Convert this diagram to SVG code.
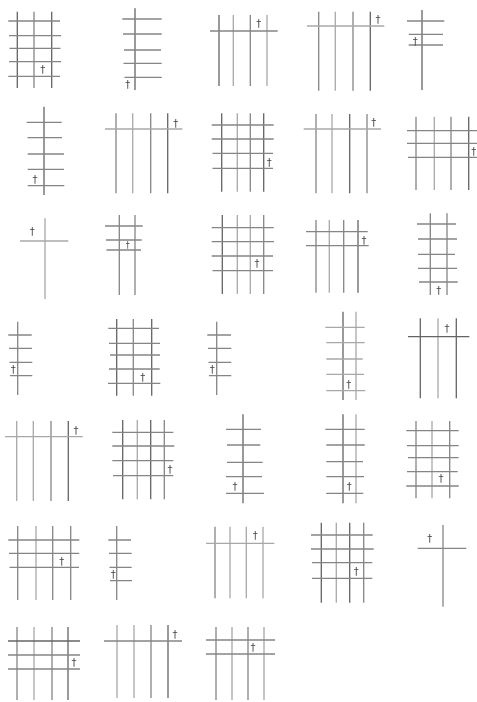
<svg xmlns="http://www.w3.org/2000/svg" width="477" height="702" viewBox="0 0 477 702">
<defs>
<filter id="gray" x="-50%" y="-50%" width="200%" height="200%"><feColorMatrix type="saturate" values="0"/></filter>
</defs>
<style>
path{fill:none;stroke-width:1.3}
.d{stroke:#646464}
.m{stroke:#858585}
.l{stroke:#a8a8a8}
text{font-family:"DejaVu Sans",sans-serif;font-size:10px;fill:#444;text-anchor:middle;filter:url(#gray)}
</style>
<rect width="477" height="702" fill="#fff"/>
<g id="fig1">
<path class="d" d="M17.3 11.7V88M51.7 11.7V88"/>
<path class="m" d="M34 11.7V88"/>
<path class="m" d="M8.3 21H60M9 35.7H61M9.5 48.3H60.5M9 61.7H61M8.3 76.3H60"/>
<text x="42.7" y="73">†</text>
</g>
<g id="fig2">
<path class="d" d="M135 8.3V90"/>
<path class="m" d="M122.3 19H161.7M123 34H161.7M124 50H161M123.5 63.3H161.7M124.5 77.3H161.7"/>
<text x="127.7" y="88">†</text>
</g>
<g id="fig3">
<path class="d" d="M219 15V86"/>
<path class="l" d="M233.3 15V86M267 15V86"/>
<path class="m" d="M250.3 15V86"/>
<path class="m" d="M210 31H277.7"/>
<text x="258.7" y="27.3">†</text>
</g>
<g id="fig4">
<path class="m" d="M318.7 11.7V90.7M353 11.7V90.7"/>
<path class="l" d="M335.3 11.7V90.7"/>
<path class="d" d="M370.3 11.7V90.7"/>
<path class="l" d="M307 26H384.3"/>
<text x="378" y="23.3">†</text>
</g>
<g id="fig5">
<path class="d" d="M422 10V90"/>
<path class="m" d="M407 21H444.3M408.7 34.3H443M408.7 45H443"/>
<text x="415.3" y="44.7">†</text>
</g>
<g id="fig6">
<path class="d" d="M44 106.7V195"/>
<path class="m" d="M26.7 122.3H61.7M27.5 137.7H62M27.7 154H64M27.7 169.3H64M27.7 185.7H64.3"/>
<text x="35" y="183.3">†</text>
</g>
<g id="fig7">
<path class="m" d="M116 113.3V193.3M150.7 113.3V193.3"/>
<path class="l" d="M132.7 113.3V193.3"/>
<path class="d" d="M167.7 113.3V193.3"/>
<path class="l" d="M105 129H182.3"/>
<text x="175.7" y="126.7">†</text>
</g>
<g id="fig8">
<path class="d" d="M221.7 113.3V191.7M263.7 113.3V191.7"/>
<path class="l" d="M237.3 113.3V191.7"/>
<path class="m" d="M250.3 113.3V191.7"/>
<path class="m" d="M211.7 125H273.7M211.7 139H273.7M212.5 153.3H273M212.5 168.3H273"/>
<text x="269.3" y="165.7">†</text>
</g>
<g id="fig9">
<path class="m" d="M316 114V193.3"/>
<path class="l" d="M332 114V193.3"/>
<path class="d" d="M349.7 114V193.3"/>
<path class="m" d="M367 114V193.3"/>
<path class="l" d="M303.7 129H381"/>
<text x="373.7" y="125.7">†</text>
</g>
<g id="fig10">
<path class="m" d="M416 116.7V190M451 116.7V190"/>
<path class="l" d="M434.3 116.7V190"/>
<path class="d" d="M468.7 116.7V190"/>
<path class="m" d="M407 130.7H477M407 143.3H477M408 157.3H477"/>
<text x="473.7" y="154.7">†</text>
</g>
<g id="fig11">
<path class="l" d="M45 218.3V299"/>
<path class="l" d="M20 241H68.3"/>
<text x="32.3" y="234.7">†</text>
</g>
<g id="fig12">
<path class="m" d="M119.3 215V295"/>
<path class="m" d="M135 215V295"/>
<path class="m" d="M105 226H142.7M106 240H141.7M106.5 250H141"/>
<text x="127.7" y="248" style="font-size:8px">†</text>
</g>
<g id="fig13">
<path class="d" d="M222.3 215V294"/>
<path class="l" d="M237.3 215V294M250.3 215V294"/>
<path class="m" d="M263.7 215V294"/>
<path class="m" d="M211.7 227.7H273.7M211.7 241.7H274M211.7 256H273M212.5 270.7H273"/>
<text x="257" y="267.3">†</text>
</g>
<g id="fig14">
<path class="m" d="M316 220V292.7M343.7 220V292.7"/>
<path class="l" d="M329.3 220V292.7"/>
<path class="d" d="M358 220V292.7"/>
<path class="m" d="M306 231.7H367.7M306 245.7H368.7"/>
<text x="364" y="244">†</text>
</g>
<g id="fig15">
<path class="m" d="M430.3 213.3V295M447 213.3V295"/>
<path class="m" d="M417 224H456M418 239H457M418 254.3H455M418 268.3H457M419 282H457.7"/>
<text x="438.7" y="294">†</text>
</g>
<g id="fig16">
<path class="m" d="M17.7 321.7V395"/>
<path class="m" d="M8.3 335H31.7M9 348.3H32M9.5 362.3H32.3M10 375.7H32.3"/>
<text x="13.3" y="373">†</text>
</g>
<g id="fig17">
<path class="d" d="M116.7 319V395.7M151.7 319V395.7"/>
<path class="m" d="M133.3 319V395.7"/>
<path class="m" d="M108.3 328.3H159M109 343.3H160M110 355H160M109 369H159.7M108 383.3H160.3"/>
<text x="142.7" y="380.7">†</text>
</g>
<g id="fig18">
<path class="m" d="M216.7 321.7V395"/>
<path class="m" d="M207.3 335H231M208 348.3H231.3M208.5 362.3H231.3M209 375.7H231.3"/>
<text x="212.3" y="373">†</text>
</g>
<g id="fig19">
<path class="d" d="M343 311.7V400"/>
<path class="l" d="M356 311.7V400"/>
<path class="l" d="M325.3 327.3H364.7M326.3 342.7H364.7M326.3 359H362.7M326.3 374.3H364M326.3 390.7H365.3"/>
<text x="348.7" y="388">†</text>
</g>
<g id="fig20">
<path class="d" d="M420.3 318.3V398.3M456.3 318.3V398.3"/>
<path class="l" d="M438 318.3V398.3"/>
<path class="d" d="M408 336.7H469.3"/>
<text x="447" y="331.7">†</text>
</g>
<g id="fig21">
<path class="l" d="M16.7 421V501M33.3 421V501"/>
<path class="m" d="M51 421V501"/>
<path class="d" d="M68.3 421V501"/>
<path class="l" d="M5 436.7H82.7"/>
<text x="76" y="434">†</text>
</g>
<g id="fig22">
<path class="d" d="M122.7 420V499.3M150.7 420V499.3"/>
<path class="l" d="M137.3 420V499.3"/>
<path class="m" d="M164.3 420V499.3"/>
<path class="m" d="M112.3 432.3H173.3M112.3 446H174.3M112.3 460.7H173.3M113 475.7H173.3"/>
<text x="170" y="473">†</text>
</g>
<g id="fig23">
<path class="d" d="M243 414.3V503.3"/>
<path class="m" d="M226 429.3H261M227 445H260.3M227 462.3H262.7M226 476.7H262M226 493.3H264"/>
<text x="235" y="489.7">†</text>
</g>
<g id="fig24">
<path class="d" d="M343 414.3V503.3"/>
<path class="l" d="M356 414.3V503.3"/>
<path class="m" d="M325.3 429.3H364.7M326.3 445H364.7M326.3 461.7H363M326.3 476.7H364M326.3 493.3H363.3"/>
<text x="349.3" y="489.7">†</text>
</g>
<g id="fig25">
<path class="m" d="M416 421V498.3M449.7 421V498.3"/>
<path class="l" d="M432 421V498.3"/>
<path class="m" d="M406.3 430.7H458.7M407 445.7H458.7M408 457.7H458.7M407 471.7H457.7M406.3 486H458.7"/>
<text x="441" y="481.7">†</text>
</g>
<g id="fig26">
<path class="m" d="M17.7 526V600M52.7 526V600M70.7 526V600"/>
<path class="l" d="M36 526V600"/>
<path class="m" d="M8.3 540H79.3M9 553.3H79.3M9.5 567.3H79"/>
<text x="61.7" y="564.7">†</text>
</g>
<g id="fig27">
<path class="m" d="M116.7 526V600"/>
<path class="m" d="M108.3 540H131M109 553.3H131.7M109.5 567.3H131.7M110 580.7H132"/>
<text x="113.3" y="578">†</text>
</g>
<g id="fig28">
<path class="m" d="M215 526.7V598.3"/>
<path class="l" d="M230 526.7V598.3M246.3 526.7V598.3M263 526.7V598.3"/>
<path class="l" d="M206 543.3H274.3"/>
<text x="255.3" y="539">†</text>
</g>
<g id="fig29">
<path class="d" d="M321.3 522.7V602.7M349.7 522.7V602.7"/>
<path class="l" d="M336.3 522.7V602.7"/>
<path class="m" d="M363.7 522.7V602.7"/>
<path class="m" d="M311 535H372.7M311 549H373.7M312 562.7H372.3M312 578.3H372.3"/>
<text x="356.3" y="574.7">†</text>
</g>
<g id="fig30">
<path class="m" d="M443 525V606.7"/>
<path class="m" d="M417.7 548.3H466.3"/>
<text x="429.7" y="542.3">†</text>
</g>
<g id="fig31">
<path class="m" d="M17 627V700M52 627V700"/>
<path class="l" d="M34 627V700"/>
<path class="d" d="M68 627V700"/>
<path class="d" d="M8 641H80"/>
<path class="m" d="M8 655H80M8 669H80"/>
<text x="74" y="666">†</text>
</g>
<g id="fig32">
<path class="l" d="M117 625V698M134 625V698"/>
<path class="m" d="M151 625V698"/>
<path class="d" d="M168 625V698"/>
<path class="m" d="M104 641H182"/>
<text x="175" y="638">†</text>
</g>
<g id="fig33">
<path class="m" d="M216 627V700M248 627V700"/>
<path class="l" d="M232 627V700M264 627V700"/>
<path class="m" d="M206 640H275M206 654H275"/>
<text x="253" y="651">†</text>
</g>
</svg>
